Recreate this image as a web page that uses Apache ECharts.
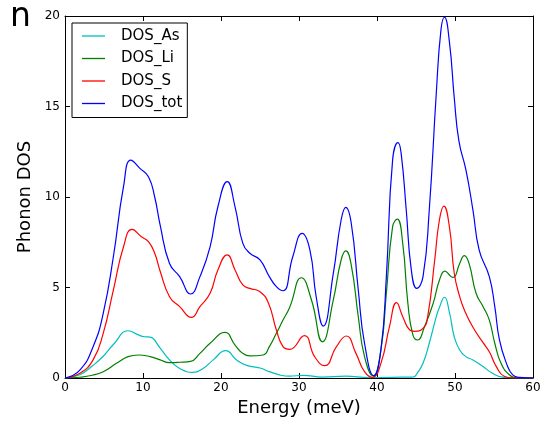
<!DOCTYPE html>
<html>
<head>
<meta charset="utf-8">
<script src="https://cdn.jsdelivr.net/npm/echarts@6/dist/echarts.min.js"></script>
<style>html,body{margin:0;padding:0;background:#fff}#c{width:546px;height:425px}</style>
</head>
<body>
<div id="c"></div>
<script>
// ---- data ----
var seriesNames = ['DOS_As', 'DOS_Li', 'DOS_S', 'DOS_tot'];
var xTicks = [0, 10, 20, 30, 40, 50, 60];
var yTicks = [0, 5, 10, 15, 20];

var asE = [0,1.9,3.6,4.9,6.2,8.1,9.4,10.2,10.9,12.2,13.4,14.7,16.4,17.7,19.0,20.6,22.0,23.3,25.0,26.2,27.5,28.8,30.5,33.0,36.0,39.0,42.0,44.6,45.2,45.9,46.7,47.6,48.0,48.65,49.3,49.9,50.6,51.4,52.3,53.6,54.8,56.1,57.5,60];
var asV = [0,0.18,0.7,1.2,1.85,2.61,2.38,2.28,2.26,1.65,1.0,0.53,0.31,0.53,1.0,1.51,1.0,0.7,0.55,0.35,0.17,0.1,0.15,0.05,0.1,0.02,0.04,0.05,0.3,0.81,1.92,3.39,3.9,4.46,3.6,2.28,1.55,1.18,1.0,0.63,0.26,0.05,0.01,0];

var liE = [0,1.9,3.5,4.9,6.6,8.1,9.4,10.9,12.2,13.4,14.7,16.1,17.3,18.6,20.5,21.8,22.8,23.7,25.4,26.2,27.1,27.95,28.8,30.3,31.6,33.0,34.4,35.4,36.0,36.7,37.6,38.4,39.5,40.5,41.2,42.0,42.6,43.3,43.96,44.6,45.2,46.1,47.2,48.0,48.7,49.5,49.8,50.6,51.2,51.8,52.7,53.6,54.4,55.1,55.9,57.0,58.0,60];
var liV = [0,0.04,0.15,0.35,0.81,1.18,1.27,1.18,1.0,0.85,0.87,0.92,1.36,1.92,2.52,1.82,1.36,1.22,1.27,1.73,2.47,3.2,3.9,5.54,4.31,2.0,4.31,6.52,7.02,6.24,3.39,1.18,0.12,1.55,4.68,8.36,8.78,7.44,4.12,2.38,2.1,2.84,4.12,5.4,5.91,5.6,5.56,6.33,6.76,6.33,4.68,3.94,3.2,1.92,0.81,0.17,0.02,0];

var sE = [0,1.9,3.6,4.9,6.2,7.5,8.6,9.8,10.7,11.5,12.2,13.4,14.7,16.2,17.3,18.6,19.6,20.8,21.8,22.8,23.7,25.0,26.1,27.1,27.95,28.8,30.7,32.0,33.3,34.8,36.07,37.3,38.4,39.4,40.5,41.6,42.5,43.3,44.2,44.8,45.9,46.5,47.4,48.0,48.57,49.3,49.9,50.6,51.2,52.3,53.6,54.4,55.3,56.3,57.5,60];
var sV = [0,0.26,1.0,2.47,4.86,7.25,8.21,7.8,7.53,6.89,5.9,4.49,3.94,3.35,3.94,4.68,5.97,6.8,5.97,5.14,4.95,4.77,4.12,2.65,1.73,1.58,2.34,1.18,0.68,1.73,2.32,1.36,0.35,0.04,0.81,2.84,4.16,3.39,2.65,2.58,2.74,3.39,6.52,8.73,9.5,8.3,5.8,4.5,3.76,2.8,1.95,1.45,0.63,0.1,0.01,0];

var totE = [0,1.9,3.6,4.9,6.2,7.5,8.45,9.6,10.7,11.5,12.2,13.4,14.7,16.1,17.3,18.6,19.6,20.8,21.8,22.8,23.7,25.0,26.2,27.1,27.95,29.2,30.4,31.4,32.2,33.1,34.4,35.4,36.0,36.7,37.6,38.4,39.6,40.5,41.2,42.0,42.7,43.1,43.75,44.4,45.1,45.9,46.7,47.6,48.2,48.65,49.3,49.9,50.5,51.4,52.3,53.1,54.4,55.1,55.7,56.6,57.4,58.3,60];
var totV = [0,0.44,1.73,3.57,6.7,10.57,12.04,11.58,11.12,10.0,8.45,6.33,5.6,4.64,5.6,7.25,9.46,10.85,9.46,7.44,6.89,6.52,5.6,5.05,4.82,6.7,7.99,7.07,4.49,2.87,5.78,8.73,9.43,8.55,4.86,1.92,0.12,1.55,5.6,12.04,13.0,12.4,9.28,5.97,4.95,5.6,9.28,15.73,19.23,19.93,18.5,15.5,13.1,11.5,9.28,7.07,5.6,3.94,2.1,0.81,0.17,0.03,0];

var colors = ['#00bfbf', '#008000', '#ff0000', '#0000ff'];

function pairs(e, v) { return e.map(function (x, i) { return [x, v[i]]; }); }
var allData = [pairs(asE, asV), pairs(liE, liV), pairs(sE, sV), pairs(totE, totV)];

var FONT = 'DejaVu Sans';
var chart = echarts.init(document.getElementById('c'), null, {renderer: 'canvas'});

function xAx(pos, labels) {
  return {
    type: 'value', position: pos, min: xTicks[0], max: xTicks[xTicks.length - 1], interval: 10,
    axisLine: {show: true, onZero: false, lineStyle: {color: '#000', width: 1}},
    axisTick: {show: true, inside: true, length: 5, lineStyle: {color: '#000'}},
    axisLabel: {show: labels, color: '#000', fontFamily: FONT, fontSize: 12, margin: 4},
    splitLine: {show: false},
    name: labels ? 'Energy (meV)' : '', nameLocation: 'middle', nameGap: 21,
    nameTextStyle: {color: '#000', fontFamily: FONT, fontSize: 18}
  };
}
function yAx(pos, labels) {
  return {
    type: 'value', position: pos, min: yTicks[0], max: yTicks[yTicks.length - 1], interval: 5,
    axisLine: {show: true, onZero: false, lineStyle: {color: '#000', width: 1}},
    axisTick: {show: true, inside: true, length: 5, lineStyle: {color: '#000'}},
    axisLabel: {show: labels, color: '#000', fontFamily: FONT, fontSize: 12, margin: 5},
    splitLine: {show: false},
    name: labels ? 'Phonon DOS' : '', nameLocation: 'middle', nameGap: 24, nameRotate: 90,
    nameTextStyle: {color: '#000', fontFamily: FONT, fontSize: 18}
  };
}

chart.setOption({
  animation: false,
  backgroundColor: '#fff',
  grid: {left: 65, right: 13, top: 16, bottom: 47, containLabel: false},
  xAxis: [xAx('bottom', true), xAx('top', false)],
  yAxis: [yAx('left', true), yAx('right', false)],
  legend: {
    orient: 'vertical', left: 72, top: 23,
    data: seriesNames,
    icon: 'rect',
    itemWidth: 23, itemHeight: 1.3, itemGap: 6.5,
    padding: [5, 5, 6, 10],
    borderColor: '#000', borderWidth: 1, borderRadius: 0, backgroundColor: '#fff',
    textStyle: {color: '#000', fontFamily: FONT, fontSize: 15, lineHeight: 16, padding: [0, 0, 0, 11]}
  },
  graphic: [{
    type: 'text', left: 10, top: 1,
    style: {text: 'n', font: '33px "DejaVu Sans"', fill: '#000'}
  }],
  series: seriesNames.map(function (n, i) {
    return {
      name: n, type: 'line', xAxisIndex: 0, yAxisIndex: 0,
      data: allData[i], showSymbol: false, symbol: 'none',
      smooth: 0.5,
      lineStyle: {color: colors[i], width: 1.2},
      itemStyle: {color: colors[i]}
    };
  })
});
</script>
</body>
</html>
